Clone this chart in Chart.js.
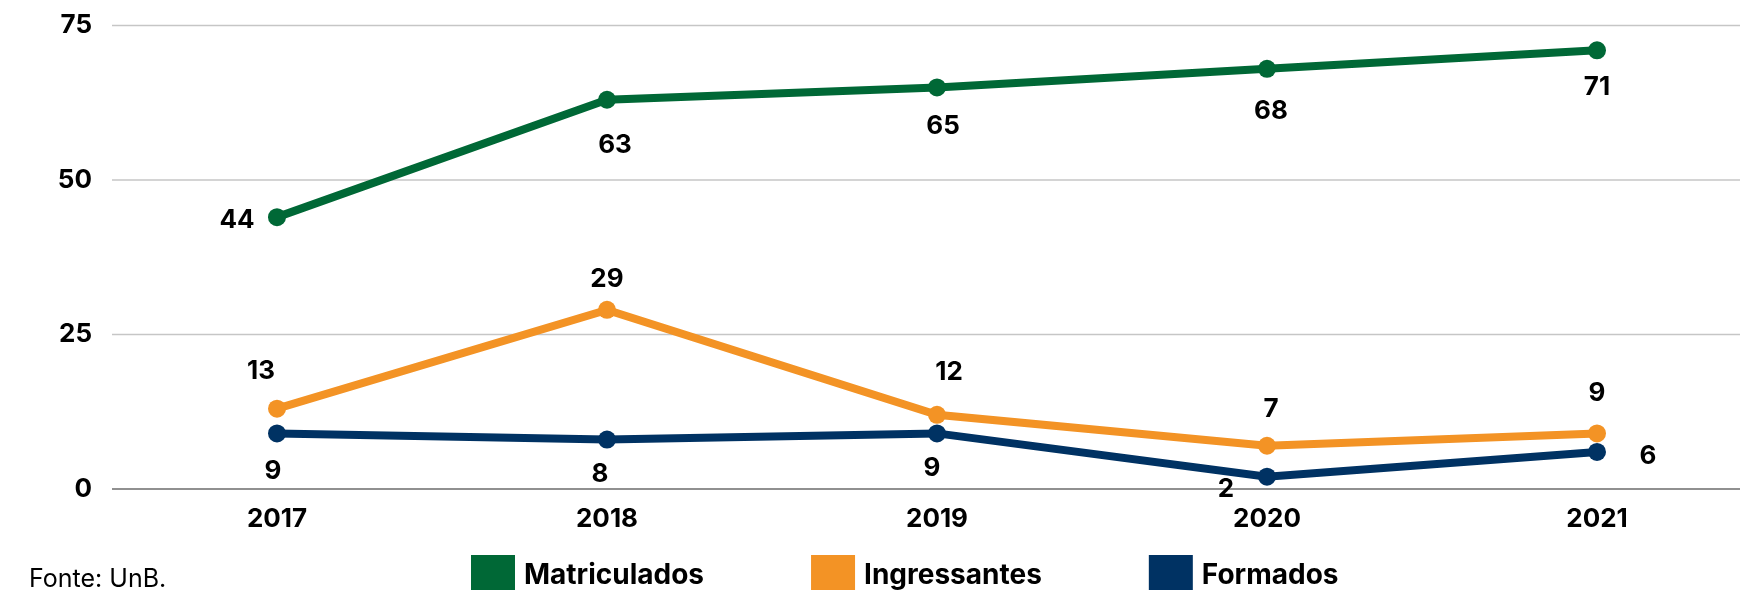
<!DOCTYPE html>
<html>
<head>
<meta charset="utf-8">
<script src="https://cdn.jsdelivr.net/npm/chart.js@4.4.0/dist/chart.umd.min.js"></script>
<style>
  html, body { margin: 0; padding: 0; background: #fff; }
  canvas { display: block; }
</style>
</head>
<body>
<canvas id="lineChart" width="1740" height="590"></canvas>
<script>
  // Data
  var years = ['2017', '2018', '2019', '2020', '2021'];
  var matriculados = [44, 63, 65, 68, 71];
  var ingressantes = [13, 29, 12, 7, 9];
  var formados = [9, 8, 9, 2, 6];
  var yTicks = [0, 25, 50, 75];

  var colors = ['#006836', '#f39325', '#003263'];

  // where each value label sits, relative to its point (px)
  var labelOffsets = [
    [[-40, 3], [8, 45], [6, 39], [4, 42], [0, 37]],
    [[-16, -37], [0, -31], [12, -43], [4, -37], [0, -40]],
    [[-4, 38], [-7, 35], [-5, 35], [-41, 13], [51, 4]]
  ];

  var FONT = 'Inter, "Open Sans", sans-serif';
  Chart.defaults.font.family = FONT;
  Chart.defaults.color = '#000';

  // horizontal grid lines, running wider than the plot area
  var wideGrid = {
    id: 'wideGrid',
    beforeDatasetsDraw: function(chart) {
      var ctx = chart.ctx;
      var y = chart.scales.y;
      ctx.save();
      y.ticks.forEach(function(t) {
        var py = y.getPixelForValue(t.value);
        ctx.strokeStyle = t.value === 0 ? '#6b6b6b' : '#c6c6c6';
        ctx.lineWidth = 1.5;
        ctx.beginPath();
        ctx.moveTo(112, py);
        ctx.lineTo(chart.width, py);
        ctx.stroke();
      });
      ctx.restore();
    }
  };

  // value labels next to each point
  var valueLabels = {
    id: 'valueLabels',
    afterDatasetsDraw: function(chart) {
      var ctx = chart.ctx;
      ctx.save();
      ctx.font = 'bold 26px ' + FONT;
      ctx.fillStyle = '#000';
      ctx.textAlign = 'center';
      ctx.textBaseline = 'middle';
      chart.data.datasets.forEach(function(ds, i) {
        chart.getDatasetMeta(i).data.forEach(function(pt, j) {
          var off = labelOffsets[i][j];
          ctx.fillText(ds.data[j], pt.x + off[0], pt.y + off[1]);
        });
      });
      ctx.restore();
    }
  };

  // legend along the bottom plus the source note
  var bottomLegend = {
    id: 'bottomLegend',
    afterDraw: function(chart) {
      var ctx = chart.ctx;
      ctx.save();
      ctx.textBaseline = 'alphabetic';
      ctx.textAlign = 'left';
      ctx.fillStyle = '#000';
      ctx.font = '25px ' + FONT;
      ctx.fillText('Fonte: UnB.', 29, 587);

      ctx.font = 'bold 28px ' + FONT;
      var x = 471;
      chart.data.datasets.forEach(function(ds) {
        ctx.fillStyle = ds.borderColor;
        ctx.fillRect(x, 555, 44, 40);
        ctx.fillStyle = '#000';
        ctx.fillText(ds.label, x + 53, 584);
        x += 53 + ctx.measureText(ds.label).width + 107;
      });
      ctx.restore();
    }
  };

  function series(label, data, color) {
    return {
      label: label,
      data: data,
      borderColor: color,
      backgroundColor: color,
      borderWidth: 8,
      pointRadius: 9,
      pointHoverRadius: 9,
      pointBorderWidth: 0,
      tension: 0
    };
  }

  var ctx = document.getElementById('lineChart').getContext('2d');

  var myLineChart = new Chart(ctx, {
    type: 'line',
    data: {
      labels: years,
      datasets: [
        series('Matriculados', matriculados, colors[0]),
        series('Ingressantes', ingressantes, colors[1]),
        series('Formados', formados, colors[2])
      ]
    },
    options: {
      responsive: false,
      animation: false,
      layout: { padding: { left: 0, right: 143, top: 25, bottom: 0 } },
      plugins: {
        legend: { display: false },
        tooltip: { enabled: false }
      },
      scales: {
        x: {
          offset: false,
          grid: { display: false, drawTicks: false },
          border: { display: false },
          ticks: { font: { size: 26, weight: 'bold' }, color: '#000', padding: 15 },
          afterFit: function(scale) { scale.height = 101; }
        },
        y: {
          min: 0,
          max: 75,
          grid: { display: false, drawTicks: true, tickLength: 175 },
          border: { display: false },
          afterBuildTicks: function(scale) {
            scale.ticks = yTicks.map(function(v) { return { value: v }; });
          },
          ticks: { font: { size: 26, weight: 'bold' }, color: '#000', padding: 10 },
          afterFit: function(scale) { scale.width = 277; }
        }
      }
    },
    plugins: [wideGrid, valueLabels, bottomLegend]
  });
</script>
</body>
</html>
